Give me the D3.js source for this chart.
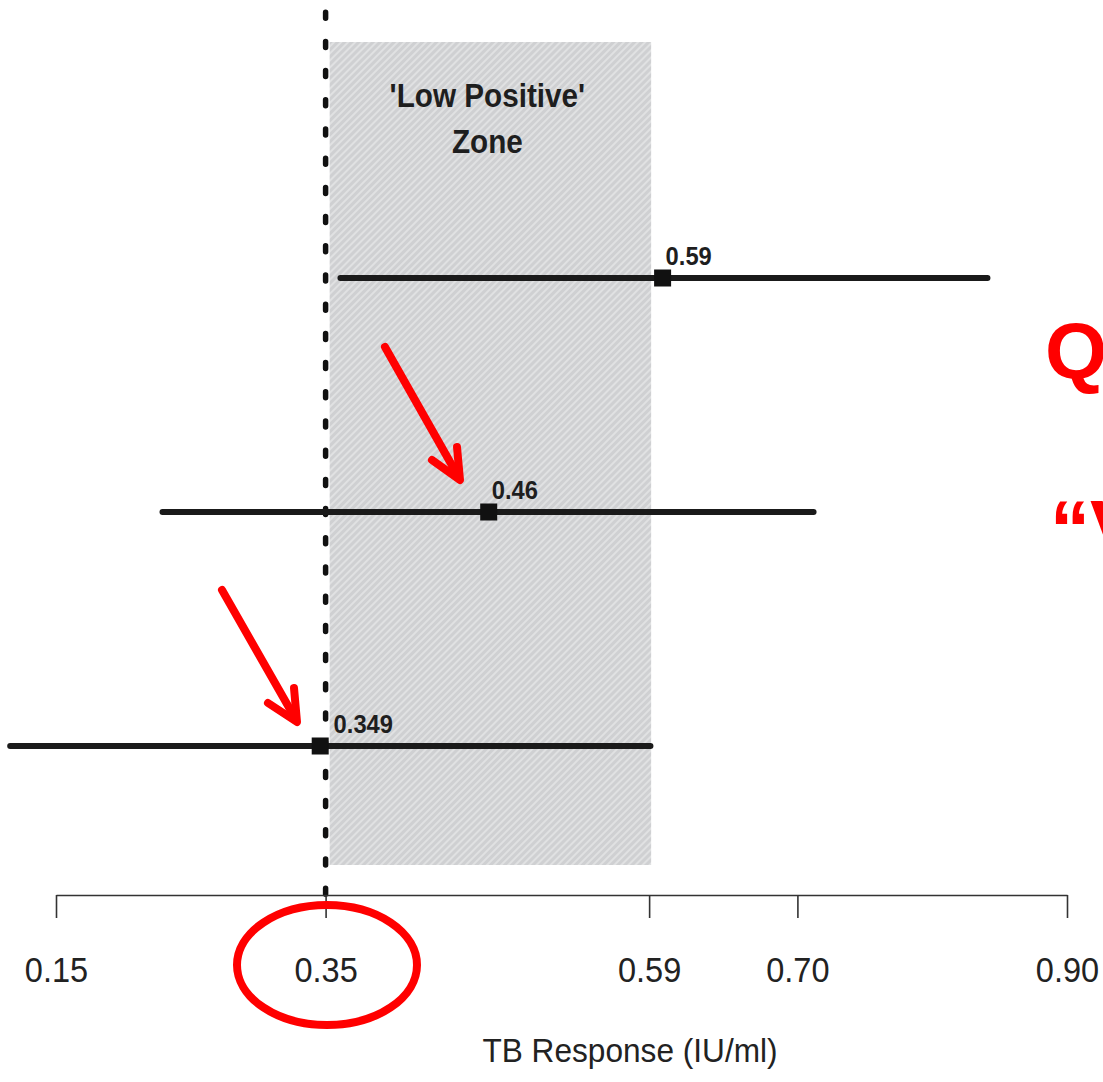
<!DOCTYPE html>
<html>
<head>
<meta charset="utf-8">
<script src="https://cdn.jsdelivr.net/npm/d3@7"></script>
<style>
  html, body { margin: 0; padding: 0; background: #fff; }
  svg { display: block; font-family: "Liberation Sans", Arial, sans-serif; }
</style>
</head>
<body>
<svg id="chart" width="1103" height="1082"></svg>
<script>
// ---- data ----
const rows        = ["A", "B", "C"];
const pointValues = [0.600, 0.471, 0.346];
const pointLabels = ["0.59", "0.46", "0.349"];
const ciLow       = [0.361, 0.229, 0.116];
const ciHigh      = [0.841, 0.712, 0.591];
const tickValues  = [0.15, 0.35, 0.59, 0.70, 0.90];
const tickLabels  = ["0.15", "0.35", "0.59", "0.70", "0.90"];
const cutoff      = 0.35;
const zoneRange   = [0.353, 0.5915];
const zoneText    = ["'Low Positive'", "Zone"];
const axisTitle   = "TB Response (IU/ml)";
const redText     = ["Q", "\u201CV"];

// ---- layout ----
const svg = d3.select("#chart");
const x = d3.scaleLinear().domain([0.15, 0.90]).range([56, 1067]);
const y = d3.scalePoint().domain(rows).range([278, 746]);
const axisY = 895;

// hatch pattern
const defs = svg.append("defs");
const pat = defs.append("pattern")
  .attr("id", "hatch").attr("patternUnits", "userSpaceOnUse")
  .attr("width", 5).attr("height", 5)
  .attr("patternTransform", "rotate(45)");
pat.append("rect").attr("width", 5).attr("height", 5).attr("fill", "#cfd0d2");
pat.append("line").attr("x1", 1).attr("x2", 1).attr("y1", 0).attr("y2", 5)
  .attr("stroke", "#e6e7e8").attr("stroke-width", 1.5);

// zone
svg.append("rect")
  .attr("x", x(zoneRange[0])).attr("y", 42)
  .attr("width", x(zoneRange[1]) - x(zoneRange[0]))
  .attr("height", 865 - 42)
  .attr("fill", "url(#hatch)");

const zoneCx = (x(zoneRange[0]) + x(zoneRange[1])) / 2 - 3;
svg.append("g").selectAll("text").data(zoneText).join("text")
  .attr("transform", (d, i) => `translate(${zoneCx},${107 + i * 46}) scale(0.9,1)`)
  .attr("text-anchor", "middle")
  .attr("font-size", 33).attr("font-weight", "bold").attr("fill", "#1e1e1e")
  .text(d => d);

// cutoff dotted line
svg.append("line")
  .attr("x1", x(cutoff)).attr("x2", x(cutoff))
  .attr("y1", 0).attr("y2", 898)
  .attr("stroke", "#111").attr("stroke-width", 5.5)
  .attr("stroke-linecap", "round")
  .attr("stroke-dasharray", "6 23.2")
  .attr("stroke-dashoffset", 17);

// axis
const axis = d3.axisBottom(x)
  .tickValues(tickValues)
  .tickFormat((d, i) => tickLabels[i])
  .tickSizeInner(23).tickSizeOuter(0).tickPadding(0);
const gAxis = svg.append("g").attr("transform", `translate(0,${axisY})`).call(axis);
gAxis.select(".domain").attr("stroke", "#333").attr("stroke-width", 1.6);
gAxis.selectAll(".tick line").attr("stroke", "#333").attr("stroke-width", 1.6);
gAxis.selectAll(".tick text")
  .attr("y", 87).attr("dy", 0)
  .attr("transform", "scale(0.93,1)")
  .attr("font-size", 35).attr("fill", "#222")
  .attr("font-family", "'Liberation Sans', Arial, sans-serif");

svg.append("text")
  .attr("transform", "translate(630,1062) scale(0.93,1)")
  .attr("text-anchor", "middle").attr("font-size", 34).attr("fill", "#222")
  .text(axisTitle);

// CI lines
const data = rows.map((r, i) => ({ r, v: pointValues[i], lo: ciLow[i], hi: ciHigh[i], lab: pointLabels[i] }));
svg.append("g").selectAll("line").data(data).join("line")
  .attr("x1", d => x(d.lo)).attr("x2", d => x(d.hi))
  .attr("y1", d => y(d.r)).attr("y2", d => y(d.r))
  .attr("stroke", "#1a1a1a").attr("stroke-width", 6)
  .attr("stroke-linecap", "round");

const sz = 17;
svg.append("g").selectAll("rect").data(data).join("rect")
  .attr("x", d => x(d.v) - sz / 2).attr("y", d => y(d.r) - sz / 2)
  .attr("width", sz).attr("height", sz).attr("fill", "#111");

svg.append("g").selectAll("text").data(data).join("text")
  .attr("transform", d => `translate(${Math.max(x(d.v) + 3, x(cutoff) + 8)},${y(d.r) - 13}) scale(0.95,1)`)
  .attr("font-size", 25).attr("font-weight", "bold").attr("fill", "#1e1e1e")
  .text(d => d.lab);

// red annotations
const red = "#ff0000";
const arrows = [
  { tail: [385, 347], tip: [460, 480], h1: [432, 460], h2: [457, 447] },
  { tail: [222, 590], tip: [297, 722], h1: [268, 703], h2: [294, 688] }
];
const ga = svg.append("g").attr("stroke", red).attr("stroke-width", 8)
  .attr("stroke-linecap", "round").attr("stroke-linejoin", "round").attr("fill", "none");
arrows.forEach(a => {
  ga.append("line").attr("x1", a.tail[0]).attr("y1", a.tail[1]).attr("x2", a.tip[0] - 2).attr("y2", a.tip[1] - 4);
  ga.append("path").attr("d", `M${a.h1[0]},${a.h1[1]} L${a.tip[0]},${a.tip[1]} L${a.h2[0]},${a.h2[1]}`);
});

svg.append("ellipse")
  .attr("cx", 327).attr("cy", 965).attr("rx", 90).attr("ry", 60)
  .attr("fill", "none").attr("stroke", red).attr("stroke-width", 8);

svg.append("g").selectAll("text").data(redText).join("text")
  .attr("x", (d, i) => i === 0 ? 1045 : 1050)
  .attr("y", (d, i) => i === 0 ? 378 : 556)
  .attr("font-size", 80).attr("font-weight", "bold").attr("fill", red)
  .text(d => d);
</script>
</body>
</html>
